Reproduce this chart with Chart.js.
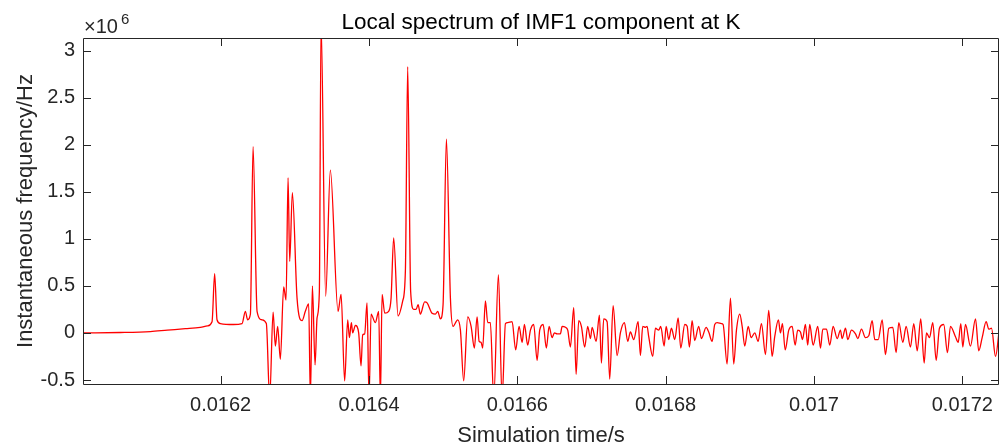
<!DOCTYPE html>
<html>
<head>
<meta charset="utf-8">
<script src="https://cdn.jsdelivr.net/npm/chart.js@4.4.1/dist/chart.umd.min.js"></script>
<style>
html,body{margin:0;padding:0;background:#fff;}
#wrap{width:1005px;height:443px;}
</style>
</head>
<body>
<div id="wrap"><canvas id="c" width="1005" height="443"></canvas></div>
<script>
// ---- data (time in s, instantaneous frequency in units of 1e6 Hz) ----
const timeS = [
0.0160144,0.0160647,0.0161052,0.0161281,0.0161524,0.0161726,0.0161821,0.0161884,0.0161919,0.0161951,
0.0161996,0.0162171,0.0162289,0.0162333,0.0162364,0.0162401,0.0162437,0.0162491,0.0162558,0.0162616,
0.0162661,0.0162707,0.0162738,0.0162769,0.0162805,0.0162850,0.0162882,0.0162909,0.0162931,0.0162967,
0.0163030,0.0163098,0.0163142,0.0163187,0.0163210,0.0163237,0.0163273,0.0163300,0.0163331,0.0163354,
0.0163416,0.0163479,0.0163583,0.0163624,0.0163672,0.0163713,0.0163736,0.0163763,0.0163780,0.0163817,
0.0163861,0.0163893,0.0163915,0.0163942,0.0163974,0.0164001,0.0164028,0.0164086,0.0164131,0.0164154,
0.0164177,0.0164212,0.0164266,0.0164298,0.0164333,0.0164392,0.0164455,0.0164491,0.0164522,0.0164562,
0.0164603,0.0164635,0.0164662,0.0164693,0.0164751,0.0164784,0.0164851,0.0164895,0.0164927,0.0164963,
0.0164999,0.0165044,0.0165098,
0.0165134,0.0165196,0.0165233,0.0165277,0.0165331,0.0165377,0.0165421,0.0165458,0.0165485,0.0165512,
0.0165533,0.0165570,0.0165601,0.0165637,0.0165682,0.0165745,0.0165795,0.0165840,0.0165871,0.0165930,
0.0165978,0.0166024,0.0166065,0.0166096,0.0166140,0.0166177,0.0166221,0.0166267,0.0166302,0.0166348,
0.0166392,0.0166429,0.0166469,0.0166500,0.0166537,0.0166581,0.0166604,0.0166649,0.0166680,0.0166716,
0.0166761,0.0166793,0.0166828,0.0166864,0.0166909,0.0166949,0.0166986,
0.0167009,0.0167063,0.0167107,0.0167134,0.0167165,0.0167211,0.0167246,0.0167292,0.0167346,0.0167390,
0.0167444,0.0167489,0.0167525,0.0167570,0.0167629,0.0167660,0.0167691,0.0167728,0.0167750,0.0167772,
0.0167826,0.0167862,0.0167907,0.0167934,0.0167980,0.0168007,0.0168042,0.0168078,0.0168123,0.0168169,
0.0168204,0.0168258,0.0168290,0.0168321,0.0168357,0.0168392,0.0168446,0.0168483,0.0168546,0.0168581,
0.0168627,0.0168662,0.0168695,0.0168752,
0.0168775,0.0168829,0.0168874,0.0168918,0.0168955,0.0168999,0.0169032,0.0169067,0.0169113,0.0169153,
0.0169202,0.0169247,0.0169292,0.0169346,0.0169390,0.0169436,0.0169471,0.0169521,0.0169548,0.0169575,
0.0169612,0.0169660,0.0169706,0.0169746,0.0169781,0.0169818,0.0169845,0.0169885,0.0169916,0.0169943,
0.0169989,0.0170051,0.0170088,0.0170119,0.0170169,0.0170213,0.0170259,0.0170313,0.0170357,0.0170380,
0.0170425,0.0170456,0.0170506,0.0170560,0.0170591,
0.0170641,0.0170694,0.0170739,0.0170785,0.0170820,0.0170866,0.0170920,0.0170964,0.0171009,0.0171063,
0.0171108,0.0171144,0.0171198,0.0171243,0.0171301,0.0171346,0.0171392,0.0171440,0.0171486,0.0171517,
0.0171558,0.0171602,0.0171648,0.0171692,0.0171750,0.0171800,0.0171841,0.0171908,0.0171945,0.0171980,
0.0172007,0.0172043,0.0172110,0.0172178,0.0172222,0.0172268,0.0172322,0.0172357,0.0172394,0.0172448,
0.0172502
];
const freqM = [
0.00,0.005,0.015,0.03,0.045,0.06,0.075,0.12,0.63,0.14,
0.10,0.09,0.10,0.23,0.14,0.20,1.98,0.23,0.14,0.10,
-0.70,0.22,-0.14,0.07,-0.28,0.49,0.35,1.65,0.76,1.49,
0.37,0.13,0.23,0.31,-0.70,0.50,-0.34,0.16,0.44,3.30,
0.39,1.73,0.23,0.41,-0.51,0.14,-0.05,0.11,0.00,0.08,
0.00,-0.35,-0.02,-0.01,0.32,-0.70,0.20,0.11,0.23,-0.70,
0.41,0.21,0.23,0.37,1.01,0.18,0.34,0.66,2.83,0.44,
0.25,0.25,0.30,0.20,0.33,0.32,0.21,0.20,0.23,0.15,
0.30,2.06,0.37,
0.07,0.14,0.03,-0.51,0.17,0.07,-0.16,0.17,-0.09,-0.10,
-0.16,0.34,0.11,0.11,-0.70,0.62,-0.70,0.10,0.11,0.12,
-0.18,0.07,-0.10,0.09,-0.13,0.03,0.09,-0.29,0.03,0.09,
-0.16,0.07,-0.05,0.00,-0.01,-0.01,0.07,0.06,0.03,-0.15,
0.27,-0.44,0.13,0.07,-0.15,0.07,-0.06,
0.06,-0.09,0.19,-0.32,0.15,0.12,-0.49,0.29,-0.24,0.00,
0.11,-0.09,0.01,-0.07,0.12,-0.24,0.07,0.06,0.07,-0.04,
-0.25,0.05,0.03,0.07,-0.14,0.07,-0.07,0.05,-0.07,0.16,
-0.16,0.09,0.07,-0.15,0.13,-0.08,0.07,-0.06,0.06,0.01,
-0.09,0.09,0.11,0.10,
0.09,-0.33,0.37,-0.33,0.03,0.20,0.07,-0.14,0.07,-0.05,
0.00,-0.09,0.10,-0.23,0.24,-0.25,-0.04,0.14,0.00,0.10,
-0.18,0.03,0.07,-0.13,0.03,0.01,-0.07,0.09,-0.13,0.09,
-0.13,0.07,-0.16,0.04,0.04,-0.13,0.07,-0.06,0.03,-0.06,
0.05,-0.07,0.03,-0.01,-0.06,
0.04,-0.05,-0.03,0.13,-0.07,-0.07,0.14,-0.23,0.05,0.06,
-0.21,0.11,-0.10,0.07,-0.15,0.10,-0.19,0.15,-0.32,0.00,
-0.05,0.11,-0.29,0.05,0.09,-0.21,0.07,-0.04,-0.10,0.10,
-0.15,0.09,-0.14,0.15,-0.19,-0.05,0.12,0.04,0.05,-0.25,
0.06
];
const xTickValues = [0.0162,0.0164,0.0166,0.0168,0.0170,0.0172];
const xTickLabels = ['0.0162','0.0164','0.0166','0.0168','0.017','0.0172'];
const yTickValues = [-0.5,0,0.5,1,1.5,2,2.5,3];
const yTickLabels = ['-0.5','0','0.5','1','1.5','2','2.5','3'];
const xRange = [0.0160144, 0.0172495];
const yRange = [-0.5426, 3.135];
const titleText = 'Local spectrum of IMF1 component at K';
const xLabelText = 'Simulation time/s';
const yLabelText = 'Instantaneous frequency/Hz';

const FONT = "'Liberation Sans', Arial, Helvetica, sans-serif";
const AX = '#262626';

const points = timeS.map((t, i) => ({x: t, y: freqM[i]}));

const decor = {
  id: 'decor',
  afterDraw(chart) {
    const ctx = chart.ctx, a = chart.chartArea;
    const xs = chart.scales.x, ys = chart.scales.y;
    ctx.save();
    ctx.strokeStyle = AX; ctx.lineWidth = 1;
    ctx.beginPath();
    ctx.rect(Math.round(a.left) + 0.5, Math.round(a.top) + 0.5, Math.round(a.right - a.left) - 1, Math.round(a.bottom - a.top));
    ctx.stroke();
    const tl = 8;
    ctx.beginPath();
    xTickValues.forEach(v => {
      const px = Math.round(xs.getPixelForValue(v)) + 0.5;
      ctx.moveTo(px, a.bottom); ctx.lineTo(px, a.bottom - tl);
      ctx.moveTo(px, a.top); ctx.lineTo(px, a.top + tl);
    });
    yTickValues.forEach(v => {
      const py = Math.round(ys.getPixelForValue(v)) + 0.5;
      ctx.moveTo(a.left, py); ctx.lineTo(a.left + tl, py);
      ctx.moveTo(a.right, py); ctx.lineTo(a.right - tl, py);
    });
    ctx.stroke();
    // title
    ctx.fillStyle = '#000';
    ctx.font = '22.5px ' + FONT;
    ctx.textAlign = 'center'; ctx.textBaseline = 'alphabetic';
    ctx.fillText(titleText, (a.left + a.right) / 2, 29);
    // x label
    ctx.fillStyle = AX;
    ctx.font = '22px ' + FONT;
    ctx.fillText(xLabelText, (a.left + a.right) / 2, 442);
    // y label
    ctx.save();
    ctx.translate(32, (a.top + a.bottom) / 2);
    ctx.rotate(-Math.PI / 2);
    ctx.fillText(yLabelText, 0, 0);
    ctx.restore();
    // exponent
    ctx.textAlign = 'left';
    ctx.font = '20px ' + FONT;
    ctx.fillText('\u00d710', a.left + 1, 33);
    ctx.font = '15px ' + FONT;
    ctx.fillText('6', a.left + 38, 24);
    ctx.restore();
  }
};

new Chart(document.getElementById('c'), {
  type: 'line',
  data: {
    datasets: [{
      data: points,
      borderColor: '#ff0000',
      borderWidth: 1.3,
      pointRadius: 0,
      fill: false,
      cubicInterpolationMode: 'monotone'
    }]
  },
  options: {
    responsive: false,
    animation: false,
    devicePixelRatio: 1,
    layout: {padding: {top: 38, right: 6, left: 0, bottom: 0}},
    plugins: {legend: {display: false}, tooltip: {enabled: false}, title: {display: false}},
    scales: {
      x: {
        type: 'linear',
        min: xRange[0], max: xRange[1],
        grid: {display: false, drawTicks: false},
        border: {display: false},
        afterBuildTicks: s => { s.ticks = xTickValues.map(v => ({value: v})); },
        afterFit: s => { s.height = 59; },
        ticks: {
          autoSkip: false, maxRotation: 0, padding: 9,
          color: AX, font: {family: FONT, size: 20},
          callback: (v) => { const i = xTickValues.findIndex(t => Math.abs(t - v) < 1e-9); return i >= 0 ? xTickLabels[i] : ''; }
        }
      },
      y: {
        type: 'linear',
        min: yRange[0], max: yRange[1],
        grid: {display: false, drawTicks: false},
        border: {display: false},
        afterBuildTicks: s => { s.ticks = yTickValues.map(v => ({value: v})); },
        afterFit: s => { s.width = 83; },
        ticks: {
          autoSkip: false, padding: 8,
          color: AX, font: {family: FONT, size: 20},
          callback: (v) => { const i = yTickValues.findIndex(t => Math.abs(t - v) < 1e-9); return i >= 0 ? yTickLabels[i] : ''; }
        }
      }
    }
  },
  plugins: [decor]
});
</script>
</body>
</html>
